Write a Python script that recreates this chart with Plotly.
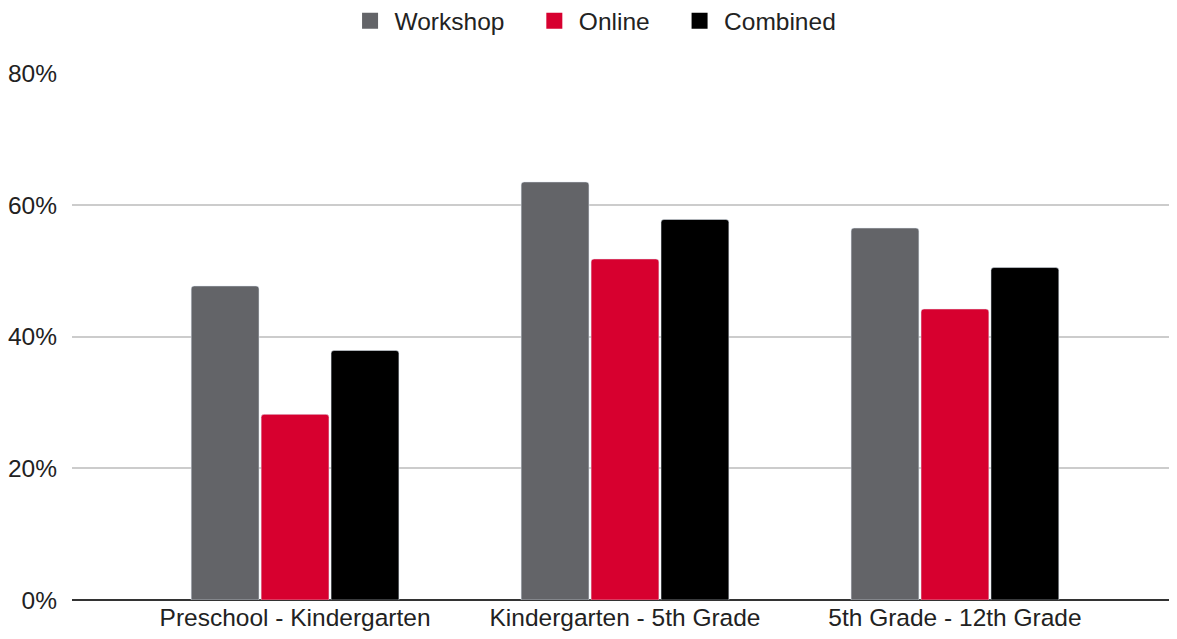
import plotly.graph_objects as go

categories = ["Preschool - Kindergarten", "Kindergarten - 5th Grade", "5th Grade - 12th Grade"]
series_names = ["Workshop", "Online", "Combined"]
workshop = [0.477, 0.635, 0.565]
online = [0.282, 0.518, 0.442]
combined = [0.379, 0.578, 0.505]
colors = ["#636468", "#D7002F", "#000000"]
tick_vals = [0, 0.2, 0.4, 0.6, 0.8]
tick_text = ["0%", "20%", "40%", "60%", "80%"]

FONT = "Liberation Sans, Arial, sans-serif"
TXT = "#222222"
PAD = "\u00a0\u00a0\u00a0"

fig = go.Figure()
for name, vals, col in zip(series_names, [workshop, online, combined], colors):
    fig.add_trace(go.Bar(name=name, x=categories, y=vals, marker_color=col,
                         showlegend=False))
# legend entries (square swatches)
for name, col in zip(series_names, colors):
    fig.add_trace(go.Scatter(name=name + PAD, x=[None], y=[None], mode="markers",
                             marker=dict(symbol="square", size=16, color=col),
                             showlegend=True))

fig.update_layout(
    width=1177, height=639,
    margin=dict(l=64, r=8, t=65, b=47, autoexpand=False),
    paper_bgcolor="white", plot_bgcolor="white",
    font=dict(family=FONT, size=24.5, color=TXT),
    barmode="group", bargap=0.364, bargroupgap=0.03, barcornerradius=3,
    showlegend=True,
    legend=dict(orientation="h", xref="container", yref="container",
                x=0.506, xanchor="center", y=0.98, yanchor="middle",
                font=dict(size=24.5, color=TXT), itemwidth=39,
                itemsizing="trace", traceorder="normal"),
)
fig.update_xaxes(range=[-0.676, 2.673], showgrid=False, ticks="", showline=False,
                 automargin=False, tickfont=dict(size=24.5, color=TXT))
fig.update_yaxes(range=[0, 0.8005], tickvals=tick_vals, ticktext=tick_text,
                 showgrid=True, gridcolor="#cccccc", gridwidth=2,
                 zeroline=True, zerolinecolor="#333333", zerolinewidth=2,
                 ticks="", ticklabelstandoff=14, automargin=False,
                 tickfont=dict(size=24.5, color=TXT))
fig.write_html("out.html")
